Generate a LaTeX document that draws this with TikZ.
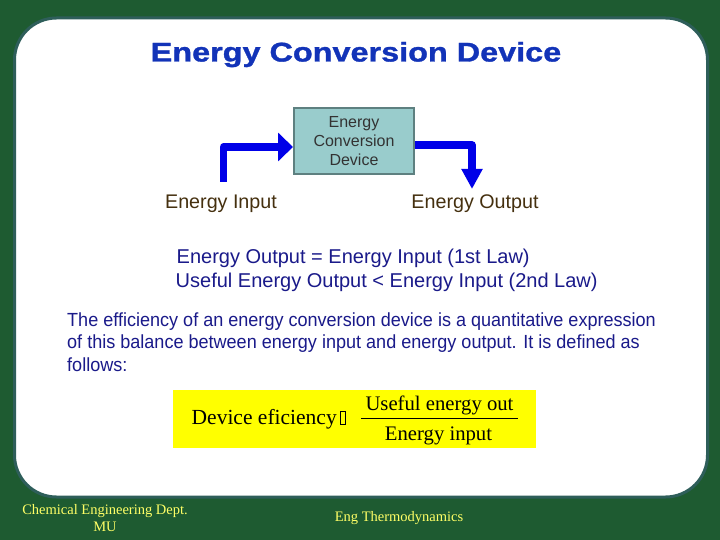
\documentclass[tikz,border=0pt]{standalone}
\usepackage{fontspec}
\setmainfont{Liberation Sans}
\newfontfamily\timesface{Liberation Serif}
\newfontfamily\titleface[FakeStretch=1.2, FakeBold=1.2]{Liberation Sans Bold}
\newfontfamily\bodyface[FakeStretch=0.95]{Liberation Sans}
\usetikzlibrary{arrows.meta, positioning}
\definecolor{slidegreen}{HTML}{1E5B31}
\definecolor{panelrim}{HTML}{2E5E5A}
\definecolor{titleblue}{HTML}{1233B8}
\definecolor{flowblue}{HTML}{0000E8}
\definecolor{devfill}{HTML}{99CCCC}
\definecolor{devrim}{HTML}{5E8080}
\definecolor{devtext}{HTML}{333333}
\definecolor{labelbrown}{HTML}{45300F}
\definecolor{textnavy}{HTML}{1A1A8A}
\definecolor{eqyellow}{HTML}{FFFF00}
\definecolor{footyellow}{HTML}{FFFF66}

\begin{document}
\begin{tikzpicture}[x=1pt, y=-1pt,
  flow/.style={line width=7.5pt, flowblue, line join=round},
  device/.style={draw=devrim, line width=2pt, fill=devfill, minimum width=120pt,
    minimum height=66pt, align=center, text=devtext,
    font=\fontsize{16}{19}\selectfont, inner sep=0pt},
  lab/.style={font=\fontsize{19.7}{23}\selectfont, text=labelbrown, inner sep=0pt},
  law/.style={font=\fontsize{20}{23}\selectfont, text=textnavy, inner sep=0pt},
  body/.style={font=\bodyface\fontsize{19}{22.5}\selectfont, text=textnavy,
    inner sep=0pt, align=left},
  eqtext/.style={font=\timesface\fontsize{21.5}{25}\selectfont, inner sep=0pt},
  fractext/.style={font=\timesface\fontsize{20.7}{25}\selectfont, inner sep=0pt},
  foot/.style={font=\timesface\fontsize{14.5}{17}\selectfont, text=footyellow,
    align=center, inner sep=0pt}
]
  % Background and panel
  \fill[slidegreen] (0,0) rectangle (720,540);
  \useasboundingbox (0,0) rectangle (720,540);
  \draw[panelrim, line width=3pt, fill=white, rounded corners=42pt]
    (14.5,18) rectangle (707.5,497);

  % Title
  \node[font=\titleface\fontsize{27}{32}\selectfont, text=titleblue, anchor=base,
    inner sep=0pt] (title) at (356,61.5) {Energy Conversion Device};

  % Device and energy flows
  \node[device] (ecd) at (354,141) {Energy\\Conversion\\Device};
  \coordinate (inbase) at (223.5,182);
  \coordinate (outtip) at (472,189);
  \draw[flow, -{Triangle[length=15pt, width=28pt]}]
    (inbase) |- ([yshift=-6pt]ecd.west);
  \draw[flow, -{Triangle[length=20pt, width=20pt]}]
    ([yshift=-4pt]ecd.east) -| (outtip);

  \node[lab, anchor=base] (inlab) at (221,208) {Energy Input};
  \node[lab, anchor=base] (outlab) at (475,208) {Energy Output};

  % Laws
  \node[law, anchor=base west] (law1) at (176.5,263.5)
    {Energy Output = Energy Input (1st Law)};
  \node[law, anchor=base west] (law2) at (175.5,287)
    {Useful Energy Output < Energy Input (2nd Law)};

  % Explanation
  \node[body, anchor=north west] (para) at (67,312.5)
    {The efficiency of an energy conversion device is a quantitative expression\\
     of this balance between energy input and energy output. It is defined as\\
     follows:};

  % Efficiency formula
  \node[fill=eqyellow, minimum width=363pt, minimum height=58pt, inner sep=0pt]
    (eqbox) at (354.5,419) {};
  \node[eqtext, anchor=base west] (lhs) at (191.5,424) {Device eficiency};
  \node[draw, line width=0.6pt, minimum width=5.5pt, minimum height=12.5pt,
    inner sep=0pt] (tofu) at (343,418) {};
  \node[fractext, anchor=base, inner xsep=4pt, text depth=8.5pt] (num)
    at (439.5,410) {Useful energy out};
  \draw[line width=0.8pt] (num.south west) -- (num.south east);
  \node[fractext, anchor=base] (den) at (438.5,440) {Energy input};

  % Footer
  \node[foot, anchor=north] (dept) at (105,504) {Chemical Engineering Dept.\\MU};
  \node[foot, anchor=base] (course) at (399,521) {Eng Thermodynamics};
\end{tikzpicture}
\end{document}
